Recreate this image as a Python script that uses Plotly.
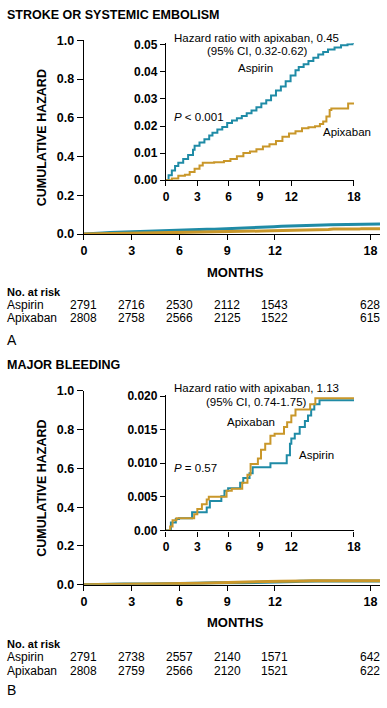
import plotly.graph_objects as go

W, H = 387, 708
FONT = "Liberation Sans, Arial, sans-serif"
TEAL = "#1f8ba6"
GOLD = "#c9972a"

# ---------------- Data ----------------
months_ticks = [0, 3, 6, 9, 12, 18]

# Panel A: stroke or systemic embolism (cumulative hazard)
a_asp_t = [0, 0.25, 0.56, 0.87, 1.18, 1.65, 2.12, 2.59, 2.74, 3.21, 3.68, 4.14, 4.45, 4.92,
           5.39, 5.86, 6.32, 6.79, 7.26, 7.73, 8.19, 8.66, 9.13, 9.60, 10.06, 10.53, 11.0,
           11.46, 11.93, 12.40, 12.71, 13.18, 13.64, 14.11, 14.58, 15.05, 15.51, 16.14,
           16.76, 17.38, 17.85, 17.94, 18.6]
a_asp_v = [0, 0.0018, 0.0036, 0.0052, 0.0064, 0.0078, 0.0093, 0.0112, 0.0127, 0.0139,
           0.0151, 0.0165, 0.0175, 0.0187, 0.0196, 0.0211, 0.0220, 0.0229, 0.0237, 0.0247,
           0.0257, 0.0269, 0.0283, 0.0295, 0.0313, 0.0331, 0.0346, 0.0365, 0.0386, 0.0406,
           0.0418, 0.0428, 0.0440, 0.0452, 0.0464, 0.0473, 0.0482, 0.0490, 0.0498, 0.0502,
           0.0506, 0.0516, 0.0516]
a_api_t = [0, 0.56, 1.18, 1.81, 2.27, 2.74, 3.21, 3.52, 3.68, 4.61, 5.55, 6.17, 6.79, 7.41,
           8.04, 8.66, 9.28, 9.91, 10.53, 11.15, 11.78, 12.40, 13.02, 13.64, 14.27, 14.74,
           15.05, 15.36, 15.67, 15.83, 17.32, 17.44, 18.6]
a_api_v = [0, 0.0006, 0.0016, 0.0020, 0.0030, 0.0042, 0.0054, 0.0064, 0.0064, 0.0066,
           0.0071, 0.0078, 0.0088, 0.0100, 0.0106, 0.0114, 0.0124, 0.0133, 0.0145, 0.0160,
           0.0172, 0.0181, 0.0192, 0.0195, 0.0199, 0.0207, 0.0217, 0.0235, 0.0259, 0.0265,
           0.0265, 0.0283, 0.0283]
a_risk_asp = [2791, 2716, 2530, 2112, 1543, 628]
a_risk_api = [2808, 2758, 2566, 2125, 1522, 615]

# Panel B: major bleeding
b_asp_t = [0, 0.47, 0.94, 1.25, 2.5, 3.9, 4.2, 5.3, 5.6, 5.95, 7.1, 7.4, 8.0, 8.3, 10.0,
           11.56, 11.87, 12.0, 12.33, 12.8, 13.3, 13.6, 13.9, 14.2, 14.7, 18.6]
b_asp_v = [0, 0.0012, 0.0017, 0.0018, 0.0027, 0.0034, 0.0044, 0.0051, 0.0059, 0.0063,
           0.0071, 0.0078, 0.0085, 0.0094, 0.0100, 0.0112, 0.0129, 0.0137, 0.0144, 0.0154,
           0.0163, 0.0171, 0.0180, 0.0188, 0.0194, 0.0194]
b_api_t = [0, 0.4, 0.63, 1.0, 2.7, 3.0, 3.44, 3.9, 4.1, 5.8, 6.3, 7.3, 7.8, 8.1, 8.8, 9.1,
           9.5, 10.0, 10.4, 11.3, 11.6, 12.0, 12.4, 13.8, 14.3, 18.6]
b_api_v = [0, 0.0006, 0.0015, 0.0018, 0.0024, 0.0032, 0.0039, 0.0046, 0.0050, 0.0059,
           0.0062, 0.0071, 0.0083, 0.0099, 0.0107, 0.0120, 0.0129, 0.0141, 0.0144, 0.0154,
           0.0161, 0.0171, 0.0180, 0.0188, 0.0197, 0.0197]
b_risk_asp = [2791, 2738, 2557, 2140, 1571, 642]
b_risk_api = [2808, 2759, 2566, 2120, 1521, 622]

main_yticks = [0, 0.2, 0.4, 0.6, 0.8, 1.0]
a_inset_yticks = [0, 0.01, 0.02, 0.03, 0.04, 0.05]
b_inset_yticks = [0, 0.005, 0.010, 0.015, 0.020]
b_inset_yticktext = ["0.00", "0.005", "0.010", "0.015", "0.020"]


def px(x):
    return x / W


def py(y):
    return 1 - y / H


fig = go.Figure()

# main curves
for xa, ya, t, v, c in [("x", "y", a_asp_t, a_asp_v, TEAL), ("x", "y", a_api_t, a_api_v, GOLD),
                        ("x3", "y3", b_asp_t, b_asp_v, TEAL), ("x3", "y3", b_api_t, b_api_v, GOLD)]:
    fig.add_trace(go.Scatter(x=t, y=v, mode="lines", line=dict(color=c, width=3),
                             xaxis=xa, yaxis=ya, showlegend=False, hoverinfo="skip"))
# inset curves
for xa, ya, t, v, c in [("x2", "y2", a_asp_t, a_asp_v, TEAL), ("x2", "y2", a_api_t, a_api_v, GOLD),
                        ("x4", "y4", b_asp_t, b_asp_v, TEAL), ("x4", "y4", b_api_t, b_api_v, GOLD)]:
    fig.add_trace(go.Scatter(x=t, y=v, mode="lines", line=dict(color=c, width=2, shape="hv"),
                             xaxis=xa, yaxis=ya, showlegend=False, hoverinfo="skip"))

axis_common = dict(showgrid=False, zeroline=False, showline=True, linecolor="black",
                   linewidth=1.3, ticks="outside", tickcolor="black", tickwidth=1.3)

main_x = dict(axis_common, domain=[px(83), 1], range=[0, 18.6], tickvals=months_ticks,
              ticklen=5, tickfont=dict(family=FONT, size=12.5, color="black", weight="bold"))
main_y = dict(axis_common, range=[0, 1], tickvals=main_yticks, tickformat=".1f",
              ticklen=6, tickfont=dict(family=FONT, size=12.5, color="black", weight="bold"))
inset_x = dict(axis_common, domain=[px(167.3), px(360.3)], range=[0, 18], tickvals=months_ticks,
               ticklen=5, tickfont=dict(family=FONT, size=12, color="black", weight="bold"))
inset_y = dict(axis_common, ticklen=5,
               tickfont=dict(family=FONT, size=12, color="black", weight="bold"))

fig.update_layout(
    width=W, height=H, margin=dict(l=0, r=0, t=0, b=0),
    paper_bgcolor="white", plot_bgcolor="white", showlegend=False,
    xaxis=dict(main_x, anchor="y"),
    yaxis=dict(main_y, domain=[py(231.7), py(34)], anchor="x"),
    xaxis2=dict(inset_x, anchor="y2"),
    yaxis2=dict(inset_y, domain=[py(176.7), py(37.1)], range=[0, 0.0505],
                tickvals=a_inset_yticks, tickformat=".2f", anchor="x2"),
    xaxis3=dict(main_x, anchor="y3"),
    yaxis3=dict(main_y, domain=[py(589.3), py(391.7)], anchor="x3"),
    xaxis4=dict(inset_x, anchor="y4"),
    yaxis4=dict(inset_y, domain=[py(534), py(395.6)], range=[0, 0.0202],
                tickvals=b_inset_yticks, ticktext=b_inset_yticktext, anchor="x4"),
)


def ann(text, x, y, size=12, bold=False, xanchor="center", angle=0):
    fig.add_annotation(text=text, x=px(x), y=py(y), xref="paper", yref="paper",
                       xanchor=xanchor, yanchor="middle", showarrow=False, textangle=angle,
                       borderpad=0,
                       font=dict(family=FONT, size=size, color="black",
                                 weight="bold" if bold else "normal"))


# Panel A texts
ann("STROKE OR SYSTEMIC EMBOLISM", 3, 8, size=12.5, bold=True, xanchor="left")
ann("CUMULATIVE HAZARD", 40, 133, size=12.5, bold=True, angle=-90)
ann("Hazard ratio with apixaban, 0.45", 260.5, 31.5, size=11.5)
ann("(95% CI, 0.32-0.62)", 261, 45, size=11.5)
ann("Aspirin", 259, 62.7, size=11.5)
ann("<i>P</i> &lt; 0.001", 175, 112.7, size=11.5, xanchor="left")
ann("Apixaban", 353, 127.3, size=11.5)
ann("MONTHS", 239, 270.5, size=13, bold=True)
ann("No. at risk", 3, 290.7, size=11, bold=True, xanchor="left")
ann("Aspirin", 3, 304.3, xanchor="left")
ann("Apixaban", 3, 317.3, xanchor="left")
ann("A", 3, 340, size=14, xanchor="left")

# Panel B texts
ann("MAJOR BLEEDING", 3, 365, size=12.5, bold=True, xanchor="left")
ann("CUMULATIVE HAZARD", 40, 490.5, size=12.5, bold=True, angle=-90)
ann("Hazard ratio with apixaban, 1.13", 260, 388.3, size=11.5)
ann("(95% CI, 0.74-1.75)", 260, 403.3, size=11.5)
ann("Apixaban", 254.7, 423.3, size=11.5)
ann("Aspirin", 322, 457, size=11.5)
ann("<i>P</i> = 0.57", 175, 470, size=11.5, xanchor="left")
ann("MONTHS", 239, 628, size=13, bold=True)
ann("No. at risk", 3, 650, size=11, bold=True, xanchor="left")
ann("Aspirin", 3, 663.3, xanchor="left")
ann("Apixaban", 3, 677.3, xanchor="left")
ann("B", 3, 697, size=14, xanchor="left")

# numbers at risk, placed on the main x axis
for xref, rows in [("x", [(a_risk_asp, 304.3), (a_risk_api, 317.3)]),
                   ("x3", [(b_risk_asp, 663.3), (b_risk_api, 677.3)])]:
    for vals, yy in rows:
        for m, n in zip(months_ticks, vals):
            fig.add_annotation(text=str(n), x=m, y=py(yy), xref=xref, yref="paper",
                               xanchor="center", yanchor="middle", showarrow=False,
                               borderpad=0,
                               font=dict(family=FONT, size=12, color="black"))

fig.write_html(
    "out.html",
    config={"displayModeBar": False},
    post_script="document.body.style.margin='0';document.body.style.padding='0';"
                "document.body.style.overflow='hidden';"
                "document.documentElement.style.overflow='hidden';",
)
